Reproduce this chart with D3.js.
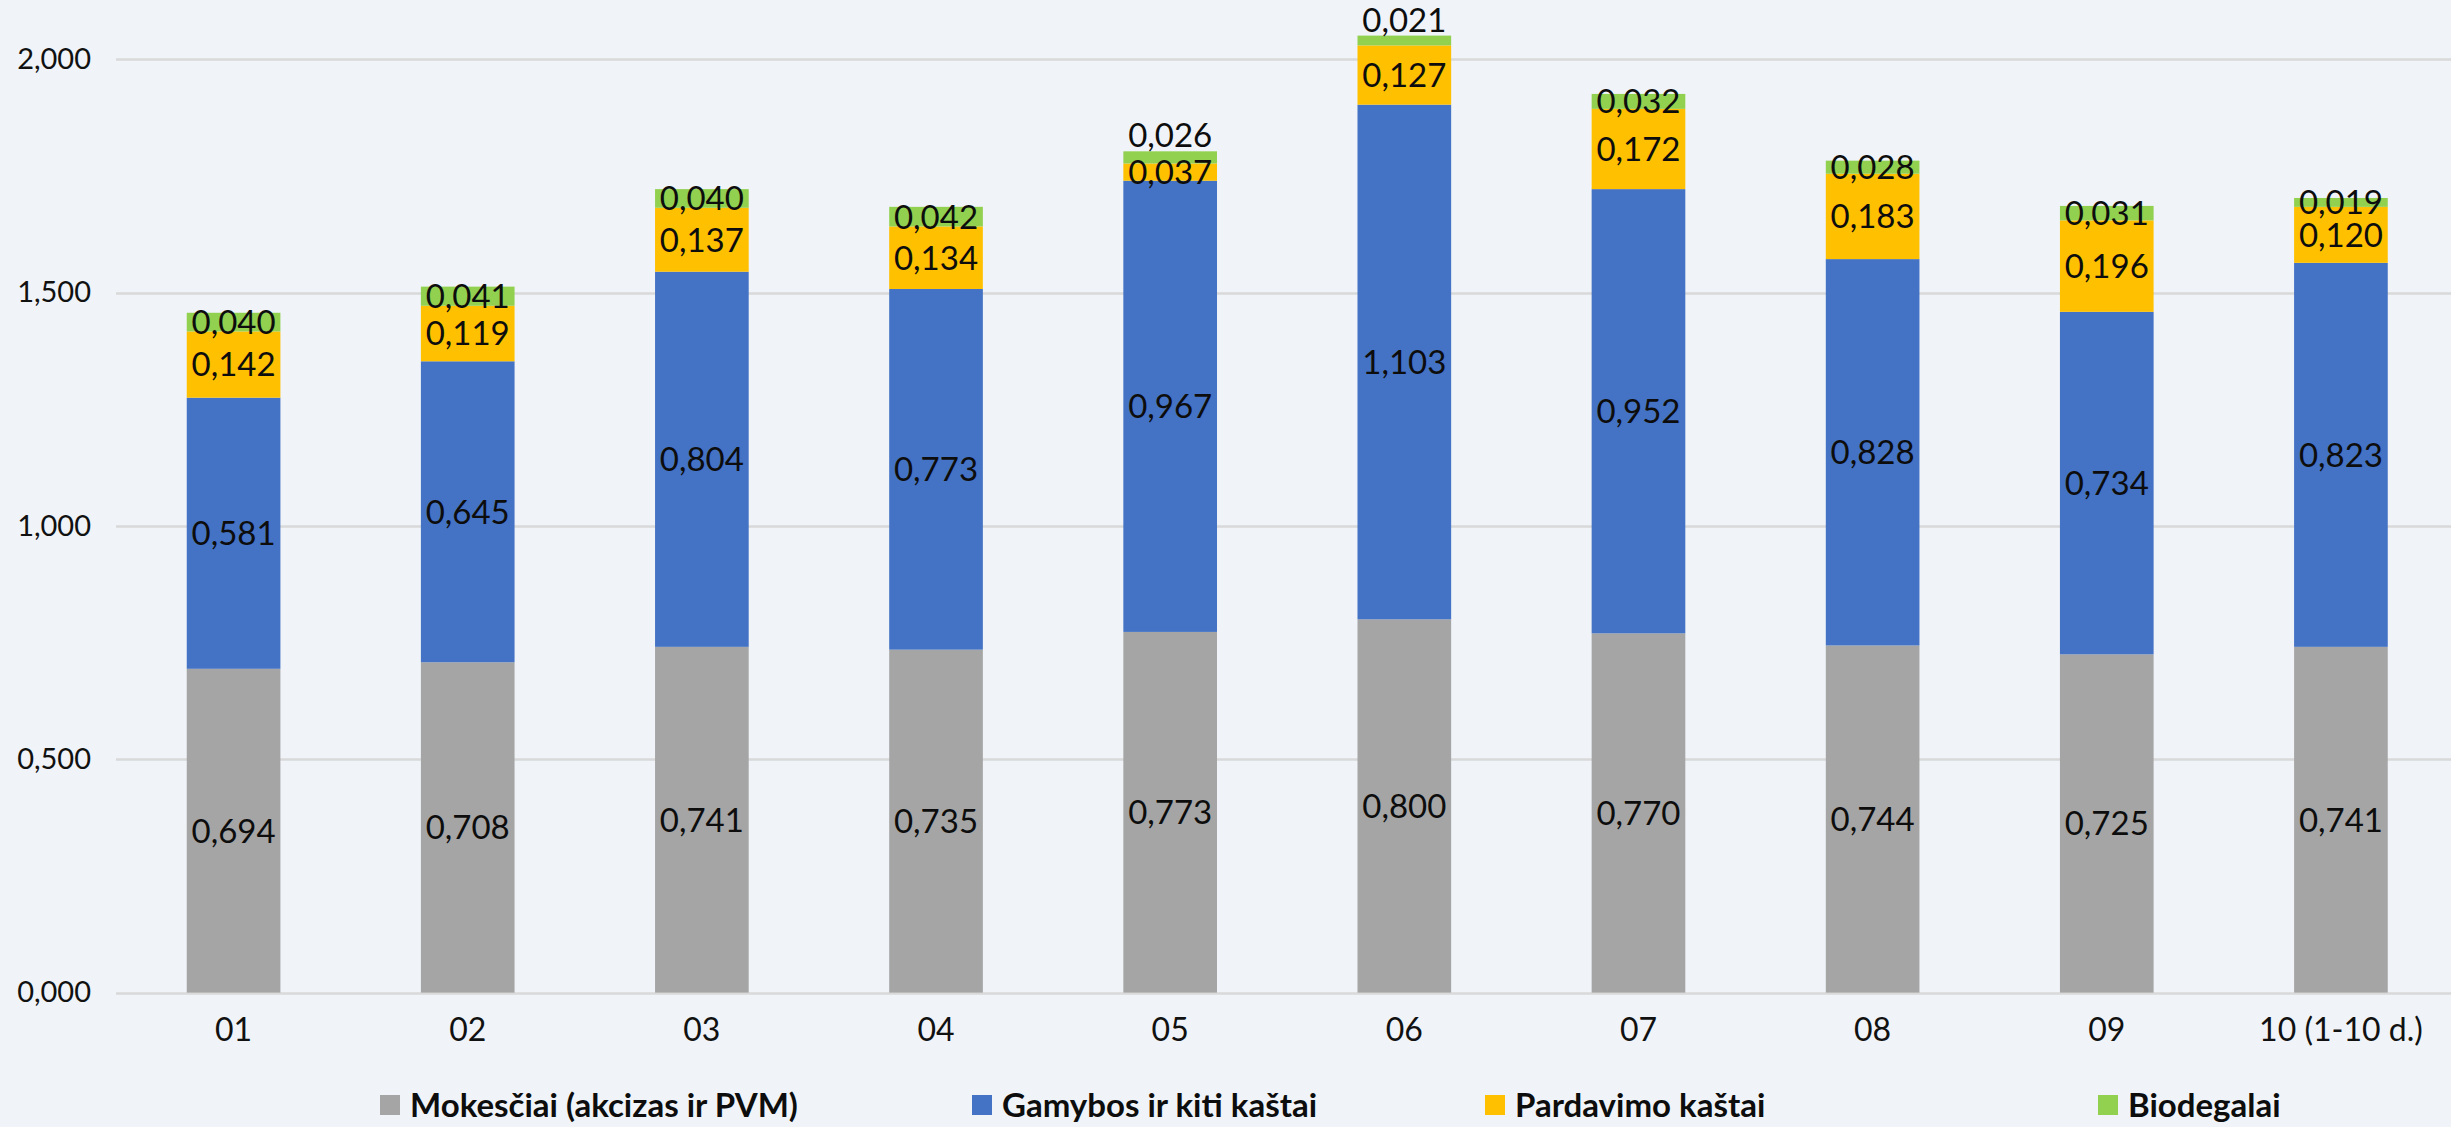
<!DOCTYPE html>
<html>
<head>
<meta charset="utf-8">
<script src="https://cdn.jsdelivr.net/npm/d3@7"></script>
<style>
  html, body { margin: 0; padding: 0; background: #f0f4f8; }
  svg { display: block; font-family: Lato, 'Open Sans', sans-serif; }
</style>
</head>
<body>
<div class="chart"></div>
<script>
(() => {
var months = ['01', '02', '03', '04', '05', '06', '07', '08', '09', '10 (1-10 d.)'];
var mokesciai = [0.694, 0.708, 0.741, 0.735, 0.773, 0.800, 0.770, 0.744, 0.725, 0.741];
var gamybos = [0.581, 0.645, 0.804, 0.773, 0.967, 1.103, 0.952, 0.828, 0.734, 0.823];
var pardavimo = [0.142, 0.119, 0.137, 0.134, 0.037, 0.127, 0.172, 0.183, 0.196, 0.120];
var biodegalai = [0.040, 0.041, 0.040, 0.042, 0.026, 0.021, 0.032, 0.028, 0.031, 0.019];
var seriesNames = ['Mokesčiai (akcizas ir PVM)', 'Gamybos ir kiti kaštai', 'Pardavimo kaštai', 'Biodegalai'];
var yTicks = [0, 0.5, 1.0, 1.5, 2.0];
// months whose top label sits above the bar instead of inside it
var labelAbove = ['05', '06'];

var width = 2451,
    height = 1127;

var colors = d3.scaleOrdinal()
    .domain(seriesNames)
    .range(['#a5a5a5', '#4472c4', '#ffc000', '#92d050']);

var svg = d3.select('div.chart')
    .append('svg')
        .attr('width', width)
        .attr('height', height);

var x = d3.scaleBand()
    .domain(months)
    .range([116.5, 2458])
    .paddingInner(0.6)
    .paddingOuter(0.3);

var y = d3.scaleLinear()
    .domain([0, 2])
    .range([992.6, 59.4]);

var fmt = (v) => d3.format('.3f')(v).replace('.', ',');

// gridlines
svg.append('g')
    .selectAll('line')
    .data(yTicks)
    .enter()
    .append('line')
        .attr('x1', 116)
        .attr('x2', width)
        .attr('y1', (d) => Math.round(y(d)) + 0.5)
        .attr('y2', (d) => Math.round(y(d)) + 0.5)
        .style('stroke', '#d9d9d9')
        .style('stroke-width', 2.5);

// y axis labels
var yAxis = svg.append('g')
    .attr('transform', 'translate(91,0)')
    .call(d3.axisLeft(y).tickValues(yTicks).tickSize(0).tickPadding(0).tickFormat(fmt));
yAxis.select('.domain').remove();
yAxis.selectAll('text')
    .style('font-size', '29px')
    .style('font-family', 'Lato, sans-serif')
    .style('fill', '#111');

// x axis labels
var xAxis = svg.append('g')
    .attr('transform', 'translate(0,1018)')
    .call(d3.axisBottom(x).tickSize(0).tickPadding(0));
xAxis.select('.domain').remove();
xAxis.selectAll('text')
    .style('font-size', '32px')
    .style('font-family', 'Lato, sans-serif')
    .style('fill', '#111');

// stacked data
var rows = months.map((m, i) => ({
    month: m,
    [seriesNames[0]]: mokesciai[i],
    [seriesNames[1]]: gamybos[i],
    [seriesNames[2]]: pardavimo[i],
    [seriesNames[3]]: biodegalai[i]
}));
var stacked = d3.stack().keys(seriesNames)(rows);

var layers = svg.append('g')
    .selectAll('g')
    .data(stacked)
    .enter()
    .append('g')
        .style('fill', (d) => colors(d.key));

layers.selectAll('rect')
    .data((d) => d)
    .enter()
    .append('rect')
        .attr('x', (d) => x(d.data.month))
        .attr('width', x.bandwidth())
        .attr('y', (d) => y(d[1]))
        .attr('height', (d) => y(d[0]) - y(d[1]));

// data labels
var lastKey = seriesNames[seriesNames.length - 1];
var isAbove = (key, d) => key === lastKey && labelAbove.indexOf(d.data.month) >= 0;
stacked.forEach((layer) => {
    svg.append('g')
        .selectAll('text')
        .data(layer)
        .enter()
        .append('text')
            .attr('x', (d) => x(d.data.month) + x.bandwidth() / 2)
            .attr('y', (d) => isAbove(layer.key, d) ? y(d[1]) - 4 : (y(d[0]) + y(d[1])) / 2)
            .attr('dy', (d) => isAbove(layer.key, d) ? '0' : '0.36em')
            .attr('text-anchor', 'middle')
            .style('font-size', '33px')
            .style('fill', '#0d0d0d')
            .text((d) => fmt(d[1] - d[0]));
});

// legend
var legendX = [380, 972, 1485, 2098];
var legend = svg.append('g')
    .selectAll('g')
    .data(seriesNames)
    .enter()
    .append('g')
        .attr('transform', (d, i) => 'translate(' + legendX[i] + ',1105)');
legend.append('rect')
    .attr('x', 0)
    .attr('y', -10)
    .attr('width', 20)
    .attr('height', 20)
    .style('fill', (d) => colors(d));
legend.append('text')
    .attr('x', 30)
    .attr('y', 0)
    .attr('dy', '0.36em')
    .style('font-size', '33px')
    .style('font-weight', 'bold')
    .style('fill', '#0d0d0d')
    .text((d) => d);
})();
</script>
</body>
</html>
